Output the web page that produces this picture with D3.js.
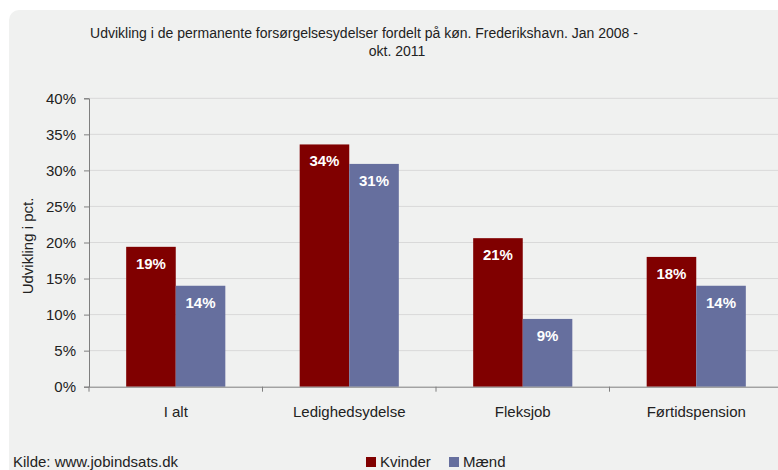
<!DOCTYPE html>
<html>
<head>
<meta charset="utf-8">
<script src="https://cdn.jsdelivr.net/npm/d3@7"></script>
<style>
  html, body { margin: 0; padding: 0; background: #fff; }
  svg { display: block; font-family: "Liberation Sans", Arial, sans-serif; }
</style>
</head>
<body>
<svg id="chart" width="778" height="470"></svg>
<script>
// Data
const categories = ['I alt', 'Ledighedsydelse', 'Fleksjob', 'Førtidspension'];
const seriesNames = ['Kvinder', 'Mænd'];
const kvinder = [0.194, 0.336, 0.206, 0.180];
const maend = [0.140, 0.309, 0.094, 0.140];
const yTicks = [0, 0.05, 0.10, 0.15, 0.20, 0.25, 0.30, 0.35, 0.40];
const colors = ['#800000', '#666f9e'];
const titleLines = ['Udvikling i de permanente forsørgelsesydelser fordelt på køn. Frederikshavn. Jan 2008 -', 'okt. 2011'];

(function () {
  const svg = d3.select('#chart');

  // background panel with rounded corner
  svg.append('rect')
    .attr('x', 9).attr('y', 10)
    .attr('width', 800).attr('height', 500)
    .attr('rx', 10)
    .attr('fill', '#f0f1f0');

  const plotLeft = 89, plotRight = 783, plotTop = 98.3, plotBottom = 386.7;

  const x = d3.scaleBand().domain(categories).range([plotLeft, plotRight]).paddingInner(0).paddingOuter(0);
  const x1 = d3.scaleBand().domain(seriesNames).range([0, x.bandwidth()]).paddingInner(0).paddingOuter(0.75);
  const y = d3.scaleLinear().domain([0, 0.4]).range([plotBottom, plotTop]);

  // gridlines
  svg.append('g')
    .selectAll('line')
    .data(yTicks.slice(1))
    .join('line')
    .attr('x1', plotLeft).attr('x2', 778)
    .attr('y1', d => y(d)).attr('y2', d => y(d))
    .attr('stroke', '#d9d9d9').attr('stroke-width', 1);

  // bars
  const rows = categories.map((c, i) => ({ cat: c, vals: [kvinder[i], maend[i]] }));
  const groups = svg.append('g')
    .selectAll('g')
    .data(rows)
    .join('g')
    .attr('transform', d => `translate(${x(d.cat)},0)`);

  const barData = d => d.vals.map((v, j) => ({ name: seriesNames[j], v, j }));

  groups.selectAll('rect')
    .data(barData)
    .join('rect')
    .attr('x', d => x1(d.name))
    .attr('width', x1.bandwidth())
    .attr('y', d => y(d.v))
    .attr('height', d => y(0) - y(d.v))
    .attr('fill', d => colors[d.j]);

  groups.selectAll('text')
    .data(barData)
    .join('text')
    .attr('x', d => x1(d.name) + x1.bandwidth() / 2)
    .attr('y', d => y(d.v) + 22)
    .attr('text-anchor', 'middle')
    .attr('fill', '#fff')
    .attr('font-weight', 'bold')
    .attr('font-size', 15)
    .text(d => Math.round(d.v * 100) + '%');

  // y axis
  const yAxis = svg.append('g')
    .attr('transform', `translate(${plotLeft},0)`)
    .call(d3.axisLeft(y).tickValues(yTicks).tickFormat(d3.format('.0%')).tickSize(5).tickPadding(8));
  yAxis.select('.domain').attr('stroke', '#7f7f7f');
  yAxis.selectAll('.tick line').attr('stroke', '#7f7f7f');
  yAxis.selectAll('.tick text')
    .attr('font-size', 15).attr('fill', '#222')
    .attr('font-family', '"Liberation Sans", Arial, sans-serif');

  // x axis
  const xAxis = svg.append('g')
    .attr('transform', `translate(0,${plotBottom})`)
    .call(d3.axisBottom(x).tickSize(0).tickPadding(20));
  xAxis.select('.domain').attr('stroke', '#7f7f7f');
  xAxis.selectAll('.tick text')
    .attr('font-size', 15).attr('fill', '#222')
    .attr('font-family', '"Liberation Sans", Arial, sans-serif');
  // category boundary ticks
  svg.append('g')
    .selectAll('line')
    .data(categories)
    .join('line')
    .attr('x1', d => x(d)).attr('x2', d => x(d))
    .attr('y1', plotBottom).attr('y2', plotBottom + 5)
    .attr('stroke', '#7f7f7f');

  // title
  svg.append('text')
    .attr('x', 364).attr('y', 38)
    .attr('text-anchor', 'middle')
    .attr('font-size', 14).attr('fill', '#222')
    .text(titleLines[0]);
  svg.append('text')
    .attr('x', 397).attr('y', 56)
    .attr('text-anchor', 'middle')
    .attr('font-size', 14).attr('fill', '#222')
    .text(titleLines[1]);

  // y axis title
  svg.append('text')
    .attr('transform', 'translate(33,246) rotate(-90)')
    .attr('text-anchor', 'middle')
    .attr('font-size', 15).attr('fill', '#222')
    .text('Udvikling i pct.');

  // source
  svg.append('text')
    .attr('x', 13).attr('y', 467)
    .attr('font-size', 15).attr('fill', '#222')
    .text('Kilde: www.jobindsats.dk');

  // legend
  const legendX = [366, 449];
  const legend = svg.append('g')
    .selectAll('g')
    .data(seriesNames)
    .join('g')
    .attr('transform', (d, i) => `translate(${legendX[i]},457)`);
  legend.append('rect')
    .attr('width', 10).attr('height', 10)
    .attr('fill', (d, i) => colors[i]);
  legend.append('text')
    .attr('x', 14).attr('y', 10)
    .attr('font-size', 15).attr('fill', '#222')
    .text(d => d);
})();
</script>
</body>
</html>
